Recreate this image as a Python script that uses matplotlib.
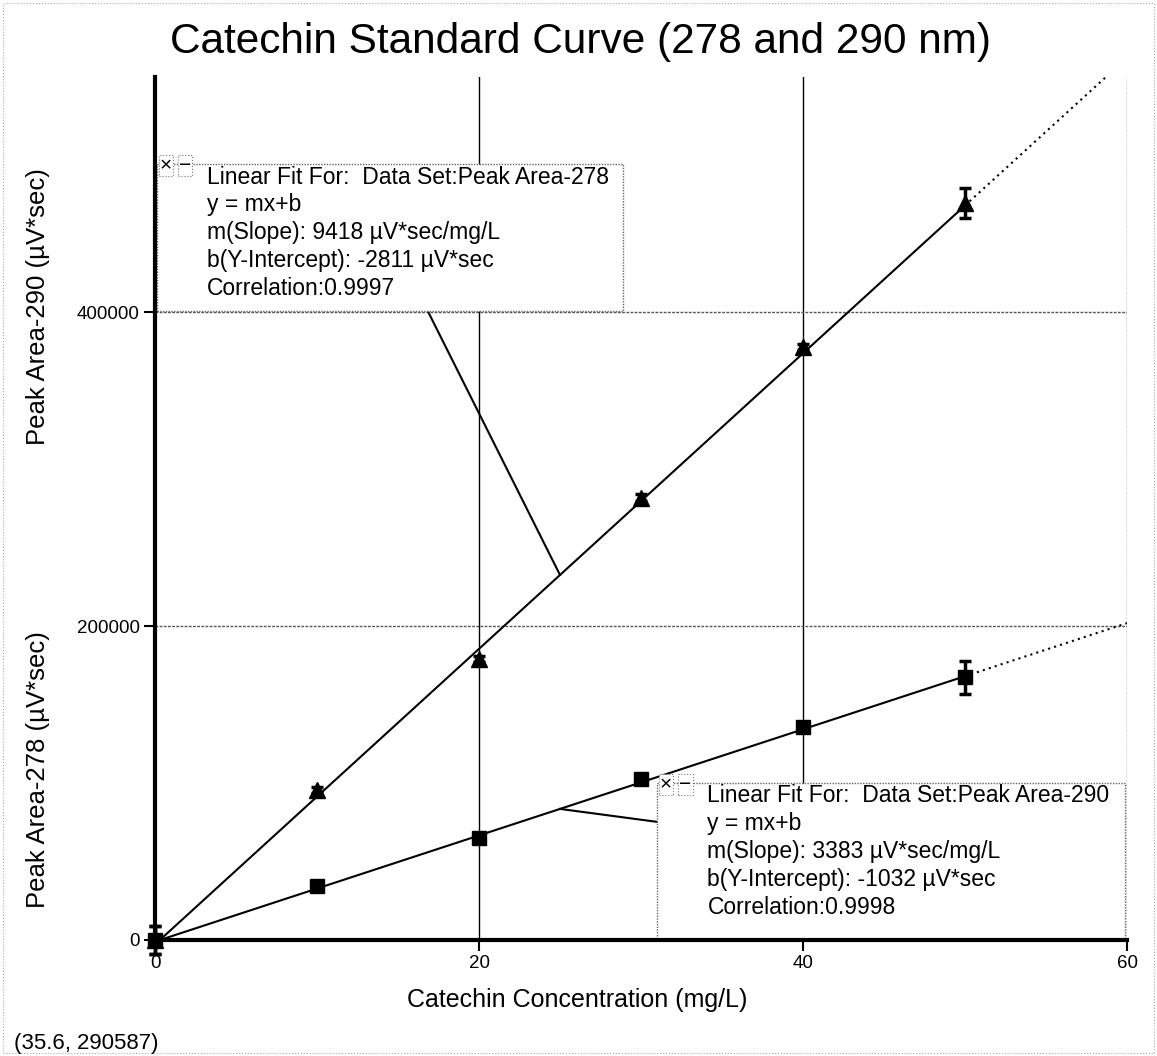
"""Catechin standard curve at 278 and 290 nm with linear fit callouts."""

import matplotlib
matplotlib.use('Agg')
import matplotlib.pyplot as plt
from matplotlib.patches import Rectangle

plt.rcParams['font.family'] = ['Liberation Sans', 'DejaVu Sans']

# Standards (mg/L) and measured peak areas (uV*sec)
conc = [0, 10, 20, 30, 40, 50]
area_278 = [0, 95800, 179000, 282000, 378000, 469600]
area_290 = [0, 34500, 65200, 102900, 135500, 167400]
err_278 = [9000, 2000, 2000, 2000, 2000, 9500]
err_290 = [9000, 2000, 2000, 2000, 2000, 10500]

# Linear fit results reported in the callouts
fit_278 = dict(name='Peak Area-278', m=9418, b=-2811, r='0.9997')
fit_290 = dict(name='Peak Area-290', m=3383, b=-1032, r='0.9998')

x_ticks = [0, 20, 40, 60]
y_ticks = [0, 200000, 400000]
cursor_text = '(35.6, 290587)'

W, H = 1157, 1056
fig = plt.figure(figsize=(W / 100, H / 100), dpi=100)
ax = fig.add_axes([155 / W, 1 - 940 / H, 972 / W, 863 / H])
ax.set_xlim(0, 60)
ax.set_ylim(0, 550000)

# grid: solid verticals inside, grey dotted horizontals and right edge
for gx in x_ticks[1:-1]:
    ax.axvline(gx, color='black', lw=1.0, zorder=1)
ax.axvline(x_ticks[-1], color='#555555', lw=1.0, ls=(0, (2, 1)), zorder=1)
for gy in y_ticks[1:]:
    ax.axhline(gy, color='#555555', lw=1.0, ls=(0, (2, 1)), zorder=1)


def fit_line(fit, x):
    return fit['m'] * x + fit['b']


x_end = conc[-1]
for fit, y, err, mk, ms in [(fit_278, area_278, err_278, '^', 12),
                            (fit_290, area_290, err_290, 's', 10)]:
    ax.plot([0, x_end], [fit_line(fit, 0), fit_line(fit, x_end)],
            color='black', lw=1.5, zorder=2, clip_on=False)
    ax.plot([x_end, 60], [fit_line(fit, x_end), fit_line(fit, 60)],
            color='black', lw=1.5, ls=(0, (1, 2)), zorder=2)
    ax.errorbar(conc, y, yerr=err, fmt=mk, color='black', ms=ms,
                elinewidth=2.5, capsize=4, capthick=2.5, zorder=3, clip_on=False)

ax.spines['top'].set_visible(False)
ax.spines['right'].set_visible(False)
for side in ['left', 'bottom']:
    ax.spines[side].set_linewidth(3)
    ax.spines[side].set_zorder(10)
ax.set_xticks(x_ticks)
ax.set_yticks(y_ticks)
ax.set_xticklabels([str(v) for v in x_ticks], fontsize=13.5)
ax.set_yticklabels([str(v) for v in y_ticks], fontsize=13.5)
ax.tick_params(axis='both', direction='out', length=8, width=1.5, pad=3)

fig.text(580 / W, 1 - 42 / H, 'Catechin Standard Curve (278 and 290 nm)',
         ha='center', va='center', fontsize=30.5)
fig.text(577 / W, 1 - 1000 / H, 'Catechin Concentration (mg/L)',
         ha='center', va='center', fontsize=18)
# one axis label per data set, stacked along the y axis
fig.text(38 / W, 1 - 908 / H, 'Peak Area-278 (\u00b5V*sec)',
         ha='center', va='bottom', rotation=90, fontsize=18.5)
fig.text(38 / W, 1 - 168 / H, 'Peak Area-290 (\u00b5V*sec)',
         ha='center', va='top', rotation=90, fontsize=18.5)
fig.text(14 / W, 1 - 1043 / H, cursor_text, ha='left', va='center', fontsize=16)

# faint dotted page border
fig.patches.append(Rectangle((0.003, 0.003), 0.994, 0.994, transform=fig.transFigure,
                             fill=False, ec='#aaaaaa', lw=0.8, ls=':'))


def callout(fit, box, anchor_x, leader_end):
    """Fit-result box (x0, y0, x1, y1 in data units) with a leader to the fit line."""
    x0, y0, x1, y1 = box
    ax.plot([anchor_x, leader_end[0]], [fit_line(fit, anchor_x), leader_end[1]],
            color='black', lw=1.5, zorder=4)
    ax.add_patch(Rectangle((x0, y0), x1 - x0, y1 - y0, fc='white', ec='#666666',
                           lw=1.0, ls=(0, (1, 1)), zorder=5, clip_on=False))
    lines = [f"Linear Fit For:  Data Set:{fit['name']}",
             'y = mx+b',
             f"m(Slope): {fit['m']} \u00b5V*sec/mg/L",
             f"b(Y-Intercept): {fit['b']} \u00b5V*sec",
             f"Correlation:{fit['r']}"]
    step = 17800
    for i, s in enumerate(lines):
        ax.text(x0 + 3.1, y1 - 12300 - step * i, s, ha='left', va='baseline',
                fontsize=16.5, zorder=6, clip_on=False)
    # close / minimise buttons on the corner
    for j, sym in enumerate(['\u00d7', '\u2212']):
        ax.text(x0 + 0.55 + j * 1.2, y1 - 1000, sym, ha='center', va='center',
                fontsize=15, zorder=7, clip_on=False,
                bbox=dict(boxstyle='square,pad=0.05', fc='white', ec='#777777',
                          lw=0.8, ls=':'))


callout(fit_278, (0.12, 400600, 28.9, 494400), 25, (16.85, 400600))
callout(fit_290, (31.0, 0, 59.9, 100160), 25, (31.0, 75280))

fig.savefig('out.png', dpi=100)
